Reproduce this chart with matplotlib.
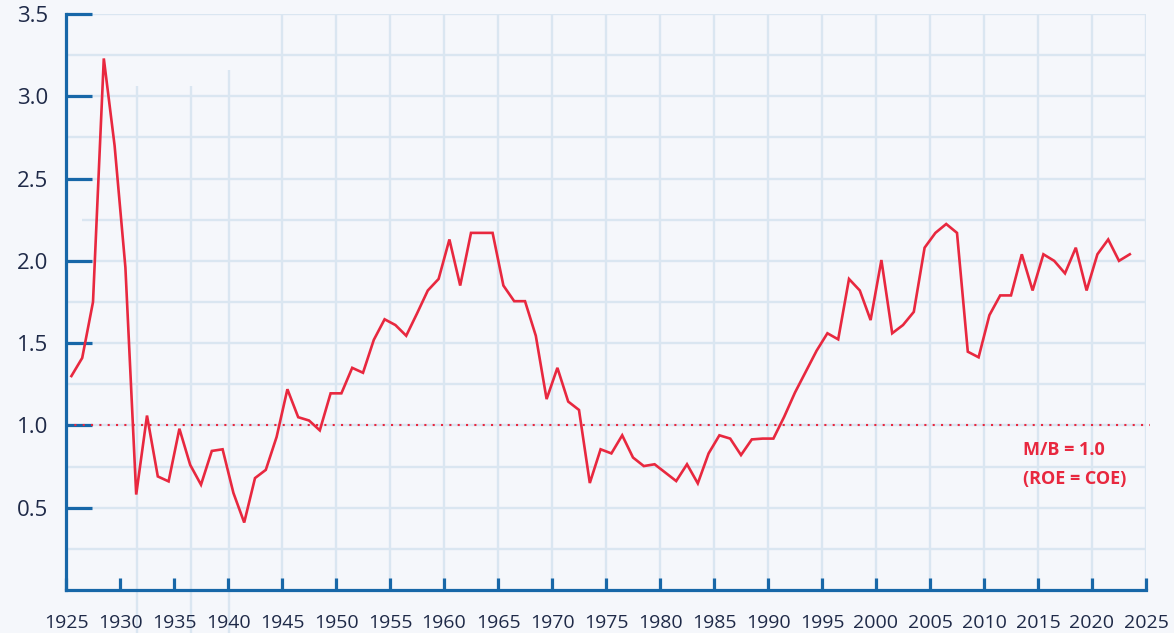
import matplotlib
matplotlib.use("Agg")
import matplotlib.pyplot as plt
import numpy as np

# Market-to-book ratio, one value per year
years = list(range(1926, 2025))
mb_ratio = [
    1.30, 1.41, 1.75, 3.23, 2.70, 1.96, 0.58, 1.06, 0.69, 0.66,   # 1926-1935
    0.98, 0.76, 0.64, 0.845, 0.855, 0.59, 0.41, 0.68, 0.73, 0.93,  # 1936-1945
    1.22, 1.05, 1.03, 0.97, 1.195, 1.195, 1.35, 1.32, 1.52, 1.645,  # 1946-1955
    1.61, 1.545, 1.68, 1.82, 1.89, 2.13, 1.85, 2.17, 2.17, 2.17,   # 1956-1965
    1.85, 1.755, 1.755, 1.545, 1.16, 1.35, 1.145, 1.094, 0.65, 0.855,  # 1966-1975
    0.83, 0.94, 0.805, 0.753, 0.764, 0.713, 0.662, 0.764, 0.648, 0.83,  # 1976-1985
    0.94, 0.92, 0.82, 0.915, 0.92, 0.92, 1.053, 1.20, 1.327, 1.454,   # 1986-1995
    1.56, 1.523, 1.89, 1.82, 1.64, 2.005, 1.56, 1.61, 1.69, 2.08,    # 1996-2005
    2.17, 2.224, 2.17, 1.448, 1.414, 1.67, 1.79, 1.79, 2.04, 1.82,   # 2006-2015
    2.04, 2.00, 1.924, 2.08, 1.82, 2.04, 2.13, 2.00, 2.04,          # 2016-2024
]
x_ticks = list(range(1925, 2030, 5))
y_ticks = [0.5, 1.0, 1.5, 2.0, 2.5, 3.0, 3.5]
ref_level = 1.0
ref_label = ["M/B = 1.0", "(ROE = COE)"]

RED = "#e8283f"
AXIS = "#1767a8"
GRID = "#dae6f1"
TEXT = "#1f2a48"
BG = "#f5f7fb"

plt.rcParams["font.family"] = ["Open Sans", "DejaVu Sans"]

fig = plt.figure(figsize=(11.74, 6.33), dpi=100, facecolor=BG)
ax = fig.add_axes([66 / 1174, 43 / 633, 1080 / 1174, 576 / 633])
ax.set_facecolor(BG)
ax.set_xlim(1925, 2025)
ax.set_ylim(0, 3.5)

# ---- grid, drawn by hand so the odd partial lines can be kept ----
for yv in np.arange(0.25, 3.51, 0.25):
    x0 = 1926.45 if abs(yv - 2.25) < 1e-6 else 1925
    ax.hlines(yv, x0, 2025, color=GRID, lw=1.7, zorder=1)
for xv in range(1945, 2030, 5):
    ax.vlines(xv, 0, 3.5, color=GRID, lw=1.7, zorder=1)
for xv, top in [(1931.62, 3.064), (1936.55, 3.064), (1940.05, 3.16)]:
    ax.vlines(xv, -0.27, top, color=GRID, lw=1.7, zorder=1, clip_on=False)

# ---- reference line at M/B = 1 ----
ax.plot([1925, 2025.4], [ref_level, ref_level], color=RED, lw=1.5,
        linestyle=(0, (1, 3)), zorder=2, clip_on=False)
ax.text(2013.6, 0.848, ref_label[0], color=RED, fontsize=13,
        fontweight="bold", ha="left", va="center")
ax.text(2013.6, 0.675, ref_label[1], color=RED, fontsize=13,
        fontweight="bold", ha="left", va="center")

# ---- the series, plotted mid-year ----
ax.plot(np.array(years) - 0.5, mb_ratio, color=RED, lw=1.9, zorder=3,
        solid_joinstyle="miter")

# ---- axes styling ----
for side in ("top", "right"):
    ax.spines[side].set_visible(False)
for side in ("left", "bottom"):
    ax.spines[side].set_color(AXIS)
    ax.spines[side].set_linewidth(2.3)

ax.set_yticks(y_ticks)
ax.set_yticklabels([f"{v:.1f}" for v in y_ticks])
ax.tick_params(axis="y", direction="in", length=19, width=2.3, color=AXIS,
               pad=13, labelsize=16, labelcolor=TEXT)
ax.set_xticks(x_ticks)
ax.set_xticklabels([str(v) for v in x_ticks])
ax.tick_params(axis="x", direction="in", length=9, width=2.3, color=AXIS,
               pad=17, labelsize=14, labelcolor=TEXT)

fig.savefig("out.png", dpi=100, facecolor=BG)
